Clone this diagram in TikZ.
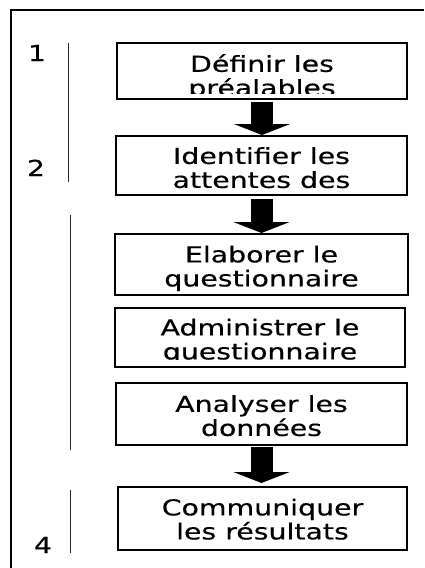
\documentclass[tikz,border=0pt]{standalone}
\usepackage{fontspec}
\newfontfamily\stepfont[FakeStretch=1.29,FakeBold=0.4]{DejaVu Sans}
\usetikzlibrary{arrows.meta,calc}
\begin{document}
\begin{tikzpicture}[x=1pt,y=-1pt,
  stepbox/.style={draw, line width=1.8pt, inner sep=0pt, outer sep=0pt},
  steptext/.style={font=\stepfont\fontsize{22}{24}\selectfont, align=center,
    inner sep=0pt, anchor=north, execute at begin node={\strut}},
  phasenum/.style={font=\stepfont\fontsize{22}{24}\selectfont, inner sep=0pt, anchor=base},
  phaseline/.style={line width=1pt, black!85},
  bigarrow/.style={line width=22pt, -{Triangle[width=56pt,length=11pt]}}]
\useasboundingbox (0,0) rectangle (424,568);

% outer frame (open at right and bottom)
\draw[line width=2pt] (11,568) -- (11,10) -- (424,10);

% step boxes
\node[stepbox, minimum width=290pt, minimum height=56pt] (b1) at (262,71) {};
\node[stepbox, minimum width=291pt, minimum height=59pt] (b2) at (261.5,165.5) {};
\node[stepbox, minimum width=293pt, minimum height=61pt] (b3) at (261.5,264.5) {};
\node[stepbox, minimum width=290pt, minimum height=59pt] (b4) at (260,337.5) {};
\node[stepbox, minimum width=291pt, minimum height=62pt] (b5) at (261.5,414) {};
\node[stepbox, minimum width=289pt, minimum height=63pt] (b6) at (262.5,518.5) {};

% box texts (overflowing lines are cut at the box padding)
\begin{scope}
  \clip ($(b1.north west)+(1,1)$) rectangle ($(b1.south east)+(-1,-6)$);
  \node[steptext] (t1) at ($(b1.north)+(0,11)$) {Définir les\\préalables};
\end{scope}
\node[steptext] (t2) at ($(b2.north)+(0,11)$) {Identifier les\\attentes des};
\node[steptext] (t3) at ($(b3.north)+(0,11.5)$) {Elaborer le\\questionnaire};
\begin{scope}
  \clip ($(b4.north west)+(1,1)$) rectangle ($(b4.south east)+(-1,-8)$);
  \node[steptext] (t4) at ($(b4.north)+(0,10.5)$) {Administrer le\\questionnaire};
\end{scope}
\node[steptext] (t5) at ($(b5.north)+(0,12)$) {Analyser les\\données};
\node[steptext] (t6) at ($(b6.north)+(0,11.5)$) {Communiquer\\les résultats};

% block arrows between steps
\draw[bigarrow, shorten <=3pt, shorten >=1pt] (b1.south) -- (b1.south |- b2.north);
\draw[bigarrow, shorten <=4pt, shorten >=1pt] (b2.south) -- (b2.south |- b3.north);
\draw[bigarrow, shorten <=2pt, shorten >=4pt] (b5.south) -- (b5.south |- b6.north);

% phase numbers and brackets
\node[phasenum] (n1) at (37,61) {1};
\node[phasenum] (n2) at (36,176) {2};
\node[phasenum] (n4) at (43,553) {4};
\draw[phaseline] (68,43) -- (68,182);
\draw[phaseline] (70,215) -- (70,450);
\draw[phaseline] (70,490) -- (70,553);
\end{tikzpicture}
\end{document}
